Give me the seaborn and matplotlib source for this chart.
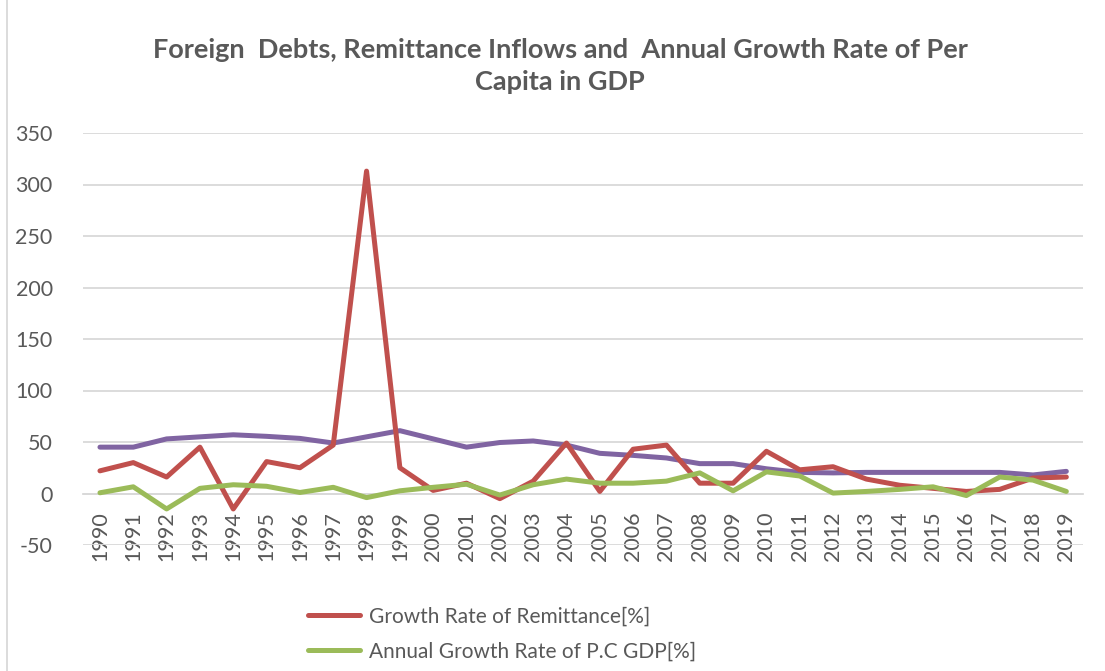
import numpy as np
import pandas as pd
import matplotlib
matplotlib.use("Agg")
import matplotlib.pyplot as plt
import seaborn as sns

years = [str(y) for y in range(1990, 2020)]
remittance = [22, 30, 16, 45, -15, 31, 25, 47, 313, 25, 3, 10,
              -5, 12, 49, 2, 43, 47, 10, 10, 41, 23, 26, 14,
              8, 5, 2, 4, 15, 16]
gdp_pc = [0.7, 6.5, -15, 5, 8.5, 7, 1, 6, -4, 2.6, 6, 9,
          -1.5, 8.5, 14, 10, 10, 12, 20, 2.6, 21, 17, 0.4, 2,
          4, 6.5, -2, 16, 13, 2]
foreign_debt = [45, 45, 53, 55, 57, 55.5, 53.5, 49, 55, 61, 53, 45,
                49.5, 51, 47, 39, 37, 34.5, 29, 29, 24, 20.5, 20, 20.5,
                20.5, 20.5, 20.5, 20.5, 18, 21.5]
yticks = [-50, 0, 50, 100, 150, 200, 250, 300, 350]

title_text = "Foreign  Debts, Remittance Inflows and  Annual Growth Rate of Per\nCapita in GDP"
label_rem = "Growth Rate of Remittance[%]"
label_gdp = "Annual Growth Rate of P.C GDP[%]"

sns.set_theme(style="white")
plt.rcParams['font.family'] = ['Lato', 'DejaVu Sans']
text_color = "#595959"

df = pd.DataFrame({"idx": np.arange(len(years)), "year": years,
                   "rem": remittance, "gdp": gdp_pc, "debt": foreign_debt})

W, H = 1105, 671
fig = plt.figure(figsize=(W / 100, H / 100), dpi=100)
fig.patch.set_facecolor("white")
ax = fig.add_axes([83.3 / W, (H - 545) / H, (1083 - 83.3) / W, (545 - 133) / H])

lw = 3.6
sns.lineplot(data=df, x="idx", y="rem", ax=ax, color="#C0504D", lw=lw,
             label=label_rem, solid_capstyle="round", solid_joinstyle="round", zorder=3)
sns.lineplot(data=df, x="idx", y="gdp", ax=ax, color="#9BBB59", lw=lw,
             label=label_gdp, solid_capstyle="round", solid_joinstyle="round", zorder=4)
sns.lineplot(data=df, x="idx", y="debt", ax=ax, color="#8064A2", lw=lw,
             solid_capstyle="round", solid_joinstyle="round", zorder=2, legend=False)

ax.set_xlim(-0.5, len(years) - 0.5)
ax.set_ylim(-50, 350)
ax.set_yticks(yticks)
ax.set_yticklabels([str(t) for t in yticks])
ax.yaxis.grid(True, color="#D9D9D9", lw=1.3)
ax.set_axisbelow(True)
ax.xaxis.grid(False)
for s in ["top", "right", "left"]:
    ax.spines[s].set_visible(False)
ax.spines["bottom"].set_position(("data", 0))
ax.spines["bottom"].set_color("#D9D9D9")
ax.spines["bottom"].set_linewidth(1.3)

ax.set_xticks(df["idx"])
ax.set_xticklabels(years, rotation=90)
ax.tick_params(axis="x", length=0, pad=13, labelsize=15.5, labelcolor=text_color)
ax.tick_params(axis="y", length=0, pad=22, labelsize=15.5, labelcolor=text_color)
for lab in ax.get_xticklabels():
    lab.set_zorder(5)
ax.set_xlabel("")
ax.set_ylabel("")

ax.get_legend().remove()
handles, labels = ax.get_legend_handles_labels()
leg = fig.legend(handles, labels, loc="upper left",
                 bbox_to_anchor=(300 / W, 1 - 598 / H),
                 frameon=False, fontsize=15, handlelength=2.5,
                 handletextpad=0.4, labelspacing=0.72, borderaxespad=0)
for t in leg.get_texts():
    t.set_color(text_color)

fig.text(560 / W, 1 - 66 / H, title_text, ha="center", va="center",
         fontsize=19.5, fontweight="bold", color=text_color, linespacing=1.4)

fig.add_artist(plt.Line2D([7 / W, 7 / W], [0, 1], color="#D9D9D9", lw=1.3))

fig.savefig("out.png", dpi=100, facecolor="white")
